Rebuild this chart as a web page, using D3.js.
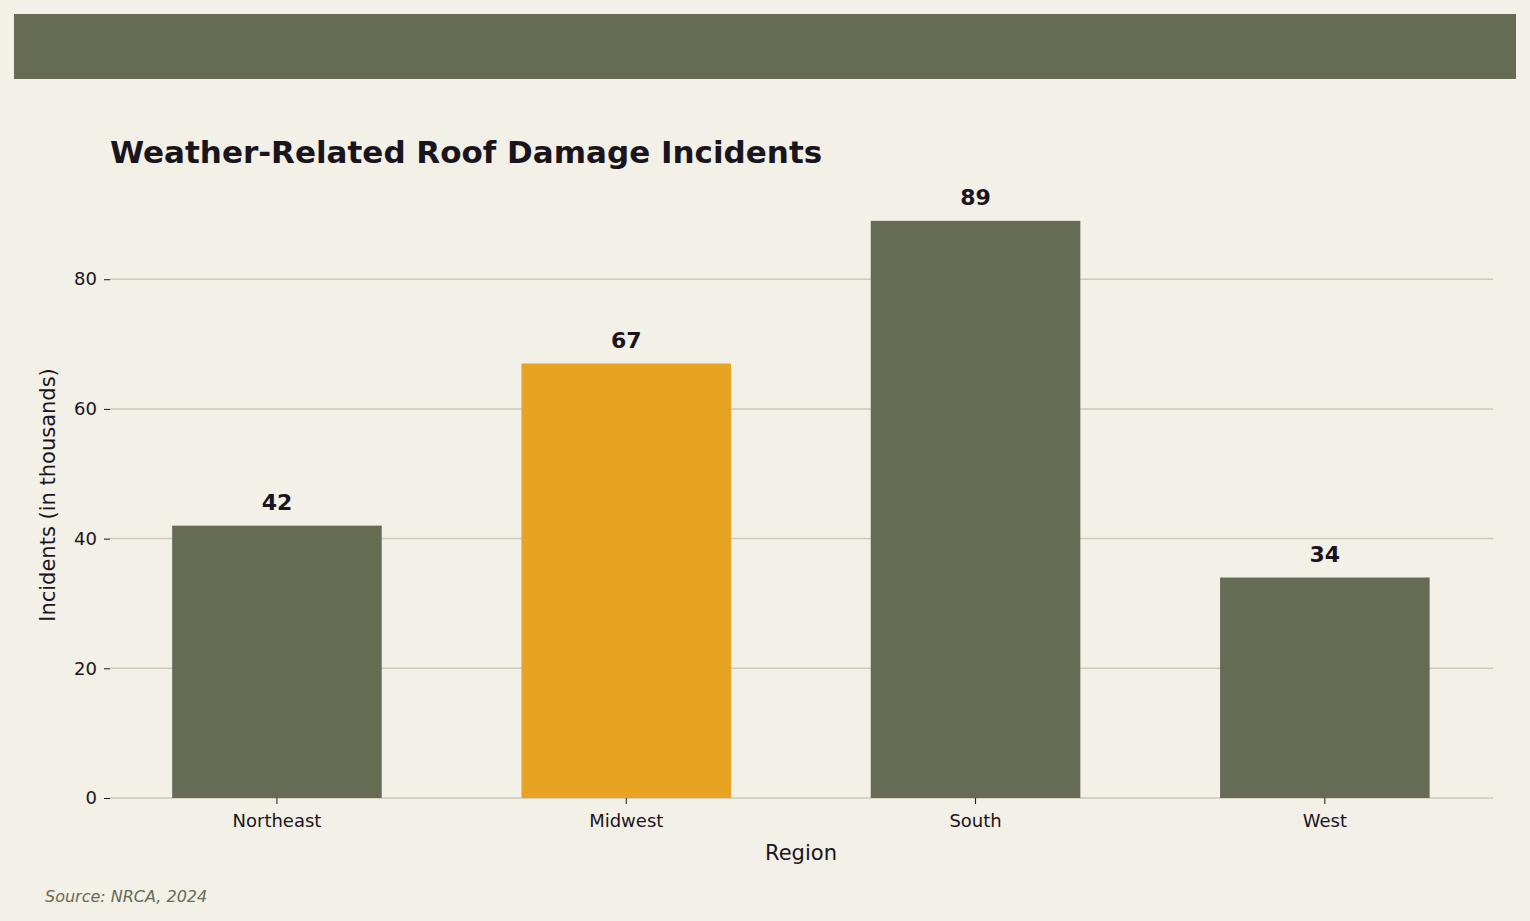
<!DOCTYPE html>
<html lang="en">
<head>
<meta charset="UTF-8">
<script src="https://d3js.org/d3.v7.min.js"></script>
<style>
  body { margin: 0; background: #f2f0e7; font-family: "DejaVu Sans", sans-serif; overflow: hidden; }
</style>
</head>
<body>
<script>
  const regions = ["Northeast", "Midwest", "South", "West"];
  const incidents = [42, 67, 89, 34];
  const yTicks = [0, 20, 40, 60, 80];
  const highlight = "Midwest";

  const W = 1530, H = 921;
  const svg = d3.select("body").append("svg").attr("width", W).attr("height", H);

  svg.append("rect").attr("width", W).attr("height", H).attr("fill", "#f2f0e7");
  svg.append("rect").attr("x", 14).attr("y", 14).attr("width", 1502).attr("height", 65).attr("fill", "#666b54");

  const x = d3.scaleBand().domain(regions).range([102.3, 1499.5]).paddingInner(0.4).paddingOuter(0.2);
  const y = d3.scaleLinear().domain([0, 93.45]).range([798, 192]);

  // grid
  svg.append("g").selectAll("line").data(yTicks).enter().append("line")
    .attr("x1", 110).attr("x2", 1493)
    .attr("y1", d => y(d)).attr("y2", d => y(d))
    .attr("stroke", "#cdcab9").attr("stroke-width", 1.5);

  // bars
  svg.append("g").selectAll("rect").data(regions).enter().append("rect")
    .attr("x", d => x(d)).attr("width", x.bandwidth())
    .attr("y", (d, i) => y(incidents[i])).attr("height", (d, i) => y(0) - y(incidents[i]))
    .attr("fill", d => d === highlight ? "#e8a323" : "#666b54");

  svg.append("g").selectAll("text").data(regions).enter().append("text")
    .attr("x", d => x(d) + x.bandwidth() / 2)
    .attr("y", (d, i) => y(incidents[i]) - 16)
    .attr("text-anchor", "middle").attr("font-size", 22).attr("font-weight", "bold")
    .attr("fill", "#1a141c").text((d, i) => incidents[i]);

  // axes
  const yAxis = svg.append("g").attr("transform", "translate(110,0)")
    .call(d3.axisLeft(y).tickValues(yTicks).tickSize(6).tickPadding(7));
  yAxis.select(".domain").remove();
  yAxis.selectAll("text").attr("font-size", 18).attr("fill", "#1a141c").attr("font-family", "DejaVu Sans");
  yAxis.selectAll("line").attr("stroke", "#1a141c");

  const xAxis = svg.append("g").attr("transform", "translate(0,798)")
    .call(d3.axisBottom(x).tickSize(6).tickPadding(10));
  xAxis.select(".domain").remove();
  xAxis.selectAll("text").attr("font-size", 18).attr("fill", "#1a141c").attr("font-family", "DejaVu Sans");
  xAxis.selectAll("line").attr("stroke", "#1a141c");

  svg.append("text").attr("x", 801).attr("y", 860).attr("text-anchor", "middle")
    .attr("font-size", 21).attr("fill", "#1a141c").text("Region");
  svg.append("text").attr("transform", "translate(55,495) rotate(-90)").attr("text-anchor", "middle")
    .attr("font-size", 21).attr("fill", "#1a141c").text("Incidents (in thousands)");

  svg.append("text").attr("x", 110).attr("y", 163)
    .attr("font-size", 31).attr("font-weight", "bold").attr("fill", "#1a141c")
    .text("Weather-Related Roof Damage Incidents");

  svg.append("text").attr("x", 45).attr("y", 902)
    .attr("font-size", 16).attr("font-style", "italic").attr("fill", "#666b54")
    .text("Source: NRCA, 2024");
</script>
</body>
</html>
